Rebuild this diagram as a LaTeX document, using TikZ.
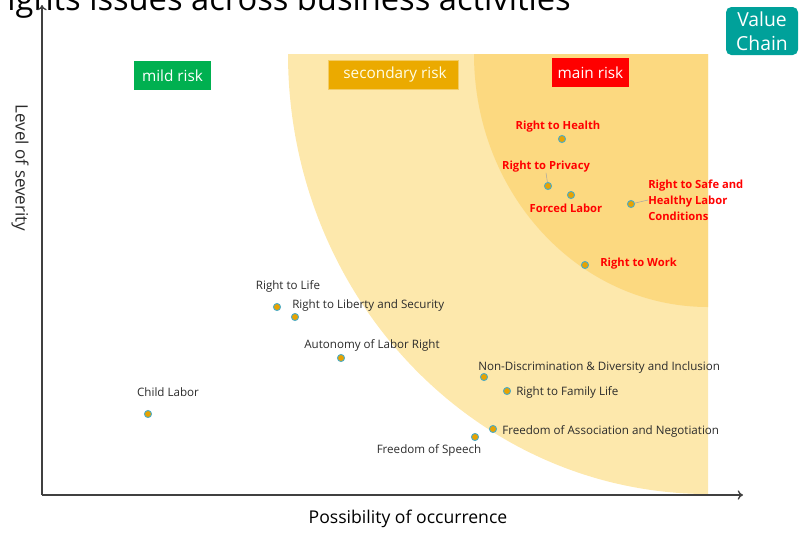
\documentclass[tikz,border=0pt]{standalone}
\usepackage{fontspec}
\setmainfont{Open Sans}
\usetikzlibrary{arrows.meta}
\definecolor{lightzone}{HTML}{FDE8AC}
\definecolor{darkzone}{HTML}{FCD980}
\definecolor{mildgreen}{HTML}{00B050}
\definecolor{secorange}{HTML}{EBAA00}
\definecolor{chainteal}{HTML}{00A19A}
\definecolor{dotorange}{HTML}{E8A200}
\definecolor{dotblue}{HTML}{4BACC6}
\definecolor{labelgray}{HTML}{2B2B2B}
\definecolor{axisgray}{HTML}{404040}
\begin{document}
\begin{tikzpicture}[x=0.75pt,y=-0.75pt,
  dot/.style={shape=circle, fill=dotorange, draw=dotblue, line width=0.7pt, inner sep=0pt, minimum size=5.3pt, node contents=},
  lbl/.style={inner sep=0pt, text=labelgray, font=\fontsize{8.7}{10}\selectfont},
  mainlbl/.style={inner sep=0pt, text=red, font=\fontsize{8.4}{10}\selectfont\bfseries},
  riskbox/.style={text=white, font=\fontsize{11.5}{13}\selectfont, inner sep=0pt, minimum height=22pt}]
\useasboundingbox (0,0) rectangle (799,533);

% zones
\fill[lightzone] (288,54) -- (708,54) -- (708,494) .. controls (476,494) and (288,297) .. (288,54);
\fill[darkzone] (474,54) -- (708,54) -- (708,307) .. controls (579,307) and (474,194) .. (474,54);

% title, cut at the top
\node[anchor=base east, inner sep=0pt, text=black, font=\fontsize{24.5}{28}\selectfont] (title) at (571,10) {rights issues across business activities};

% axes
\coordinate (O) at (42,495);
\coordinate (Ytip) at (42,5);
\coordinate (Xtip) at (743,495);
\draw[axisgray, line width=1pt, -{To[length=4pt,width=7pt]}] (O) -- (Ytip);
\draw[axisgray, line width=1pt, -{To[length=4pt,width=7pt]}] (O) -- (Xtip);
\node[rotate=-90, text=labelgray, font=\fontsize{12.8}{15}\selectfont] (ylab) at (20,168) {Level of severity};
\node[text=black, font=\fontsize{13.2}{15}\selectfont] (xlab) at (408,519) {Possibility of occurrence};

% risk boxes
\node[riskbox, fill=mildgreen, minimum width=57.5pt] (mild) at (172.5,75.5) {mild risk};
\node[riskbox, fill=secorange, draw=secorange!60!white, minimum width=97.5pt, text=white!90!yellow] (sec) at (393,75) {\raisebox{3pt}{\hspace{3pt}secondary risk}};
\node[riskbox, fill=red, minimum width=57.5pt] (main) at (590.5,72.5) {\raisebox{-2pt}{main risk}};
\node[fill=chainteal, rounded corners=4pt, text=white, align=center, minimum width=54pt, minimum height=36pt, inner sep=0pt,
  font=\fontsize{14.5}{18}\selectfont] (chain) at (762,31) {Value\\Chain};

% main risks
\node (RtH) at (562,139) [dot];
\node[mainlbl] (RtHl) at (558,127) {Right to Health};
\node (RtP) at (548,186) [dot];
\node[mainlbl] (RtPl) at (546,167) {Right to Privacy};
\draw[gray!70, line width=0.4pt] (RtP) -- (RtPl.south);
\node (FL) at (571,195) [dot];
\node[mainlbl] (FLl) at (566,208) {Forced Labor};
\node (RtS) at (631,204) [dot];
\node[mainlbl, anchor=west, align=left, font=\fontsize{8.4}{12}\selectfont\bfseries] (RtSl) at (648,200) {Right to Safe and\\Healthy Labor\\Conditions};
\draw[gray!70, line width=0.4pt] (RtS) -- (RtSl.west);
\node (RtW) at (585,265) [dot];
\node[mainlbl, anchor=west] (RtWl) at (600,264) {Right to Work};

% the rest
\node (RtL) at (277,307) [dot];
\node[lbl] (RtLl) at (288,286) {Right to Life};
\node (RLS) at (295,317) [dot];
\node[lbl, anchor=west] (RLSl) at (292,305) {Right to Liberty and Security};
\node (ALR) at (341,358) [dot];
\node[lbl] (ALRl) at (372,345) {Autonomy of Labor Right};
\node (CL) at (148,414) [dot];
\node[lbl] (CLl) at (168,392) {Child Labor};
\node (NDI) at (484,377) [dot];
\node[lbl, anchor=west] (NDIl) at (478,367) {Non-Discrimination \& Diversity and Inclusion};
\node (RFL) at (507,391) [dot];
\node[lbl, anchor=west] (RFLl) at (516,392) {Right to Family Life};
\node (FAN) at (493,429) [dot];
\node[lbl, anchor=west] (FANl) at (502,431) {Freedom of Association and Negotiation};
\node (FoS) at (475,437) [dot];
\node[lbl] (FoSl) at (429,450) {Freedom of Speech};
\end{tikzpicture}
\end{document}
